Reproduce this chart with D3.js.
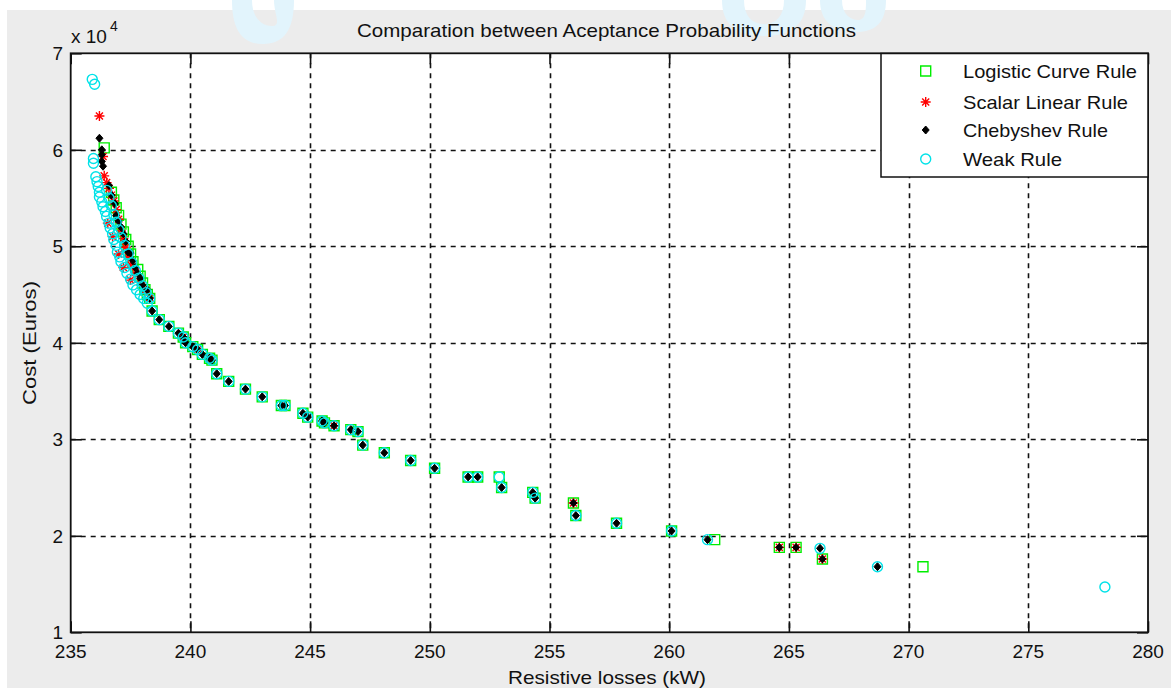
<!DOCTYPE html>
<html>
<head>
<meta charset="utf-8">
<script src="https://cdn.jsdelivr.net/npm/d3@7"></script>
<style>
  html, body { margin: 0; padding: 0; background: #ffffff; }
  svg { display: block; }
  text { font-family: "Liberation Sans", Arial, sans-serif; fill: #111; }
</style>
</head>
<body>
<svg id="chart" width="1171" height="688"></svg>
<script>
// ---------------- DATA ----------------
const chartTitle = "Comparation between Aceptance Probability Functions";
const xLabel = "Resistive losses (kW)";
const yLabel = "Cost (Euros)";
const xTicks = [235, 240, 245, 250, 255, 260, 265, 270, 275, 280];
const yTicks = [10000, 20000, 30000, 40000, 50000, 60000, 70000];
const seriesNames = ["Logistic Curve Rule", "Scalar Linear Rule", "Chebyshev Rule", "Weak Rule"];

// shared part of the front (kW, Euros)
const frontTail = [
  [238.3,44600],[238.4,43300],[238.7,42400],[239.1,41700],[239.5,41000],[239.7,40600],
  [239.8,40000],[240.1,39600],[240.3,39300],[240.5,38800],[240.8,38400],[240.9,38200],
  [241.1,36800],[241.6,36000],[242.3,35200],[243.0,34400],[243.8,33500],[243.95,33500],
  [244.7,32700],[244.9,32300],[245.5,31900],[245.6,31700],[246.0,31400],[246.7,31000],
  [247.0,30800],[247.2,29400],[248.1,28600],[249.2,27800],[250.2,27000],[251.6,26100],
  [252.0,26100],[253.0,25000],[254.3,24500],[254.4,23900],[256.0,23400],[256.1,22100],
  [257.8,21300],[260.1,20500],[264.6,18800],[265.3,18800],[266.4,17600]
];

const logisticHead = [
  [236.4,60200],[236.7,55600],[236.8,54800],[236.9,54000],[237.0,53200],[237.1,52300],
  [237.2,51500],[237.3,50700],[237.4,50000],[237.5,49200],[237.6,48400],[237.8,47600],
  [237.9,46900],[238.0,46200],[238.1,45500],[238.2,45000]
];
const logisticExtra = [[252.9,26100],[261.9,19600],[270.6,16800]];

const scalarPoints = [
  [236.2,63500],[236.35,59300],[236.4,57300],[236.5,56600],[236.6,56000],[236.7,55300],
  [236.8,54700],[236.55,52400],[236.9,53800],[237.0,52800],[236.75,51000],[237.1,51600],
  [237.2,50800],[237.0,49200],[237.3,49900],[237.4,49000],[237.2,47800],[237.5,48100],
  [237.7,47300],[237.5,46500],[237.9,46300],[238.1,45400],[238.3,44700],[239.7,40600],
  [240.3,39300],[240.8,38400],[246.0,31400],[256.0,23400],[264.6,18800],[265.3,18800],
  [266.4,17600]
];

const chebyshevHead = [
  [236.2,61200],[236.3,60000],[236.3,59500],[236.3,58800],[236.35,58300],[236.6,56300],
  [236.7,55300],[236.85,54400],[236.9,53200],[237.0,52600],[237.1,52000],[237.2,51300],
  [237.3,50500],[237.4,49400],[237.5,49300],[237.6,48500],[237.7,47800],[237.8,47200],
  [237.9,46700],[238.0,46000],[238.2,45500]
];
const chebyshevExtra = [[261.6,19600],[266.3,18700],[268.7,16800]];

const weakHead = [
  [235.9,67300],[236.0,66800],[235.95,59100],[235.95,58600],[236.05,57200],[236.1,56700],
  [236.15,56200],[236.2,55600],[236.2,55100],[236.3,54600],[236.35,54100],[236.45,53600],
  [236.5,53100],[236.6,52400],[236.65,51900],[236.75,51300],[236.8,50700],[236.9,50100],
  [236.95,49400],[237.05,48900],[237.1,48400],[237.25,47800],[237.35,47200],[237.5,46600],
  [237.6,46000],[237.75,45500],[237.9,45000],[238.05,44600],[238.2,44100],
  [236.5,55800],[236.6,55000],[236.7,54200],[236.8,53300],[236.9,52500],[237.0,51700],
  [237.1,50900],[237.25,50100],[237.4,49200],[237.55,48300],[237.7,47500],[237.85,46700],
  [238.0,45900],[238.15,45200]
];
const weakExcluded = [256.0, 264.6, 265.3, 266.4];
const weakExtra = [[252.9,26100],[261.6,19600],[266.3,18700],[268.7,16800],[278.2,14700]];

const logisticPoints = logisticHead.concat(frontTail, logisticExtra);
const chebyshevPoints = chebyshevHead.concat(frontTail, chebyshevExtra);
const weakPoints = weakHead.concat(frontTail.filter(d => !weakExcluded.includes(d[0])), weakExtra);

// ---------------- LAYOUT ----------------
const W = 1171, H = 688;
const plotL = 70.7, plotR = 1148, plotT = 53.3, plotB = 632.3;
const tickLen = 11;

const svg = d3.select("#chart");

// figure background
svg.append("rect").attr("x", 0).attr("y", 0).attr("width", W).attr("height", H).attr("fill", "#ffffff");
svg.append("rect").attr("x", 7).attr("y", 10).attr("width", W - 7).attr("height", H - 10).attr("fill", "#ececec");

// faint watermark shapes at top
const wm = svg.append("g").attr("fill", "#e2f4fc").attr("stroke", "none");
wm.append("path").attr("d", "M232,0 L252,0 C252,18 262,26 272,26 C282,26 274,14 274,0 L294,0 C294,30 284,44 263,44 C242,44 232,30 232,0 Z");
wm.append("path").attr("d", "M722,0 L744,0 C744,16 752,24 764,24 C776,24 784,16 784,0 L806,0 C806,24 792,36 764,36 C736,36 722,24 722,0 Z");
wm.append("path").attr("d", "M820,0 L842,0 C842,14 850,20 858,20 C866,20 866,10 866,0 L886,0 C886,22 876,32 856,32 C834,32 820,22 820,0 Z");

const x = d3.scaleLinear().domain([235, 280]).range([plotL, plotR]);
const y = d3.scaleLinear().domain([10000, 70000]).range([plotB, plotT]);

// plot area
svg.append("rect").attr("x", plotL).attr("y", plotT).attr("width", plotR - plotL).attr("height", plotB - plotT).attr("fill", "#ffffff");

// grid
const grid = svg.append("g").attr("stroke", "#111").attr("stroke-width", 1.6).attr("stroke-dasharray", "5,5");
grid.selectAll("line.gx").data(xTicks.slice(1, -1)).join("line")
  .attr("x1", d => Math.round(x(d)) + 0.5).attr("x2", d => Math.round(x(d)) + 0.5)
  .attr("y1", plotT).attr("y2", plotB);
grid.selectAll("line.gy").data(yTicks.slice(1, -1)).join("line")
  .attr("x1", plotL).attr("x2", plotR)
  .attr("y1", d => Math.round(y(d)) + 0.5).attr("y2", d => Math.round(y(d)) + 0.5);

// axes (ticks inside)
const axisStyle = g => {
  g.select(".domain").remove();
  g.selectAll(".tick line").attr("stroke", "#111").attr("stroke-width", 1.6);
  g.selectAll(".tick text").remove();
};
svg.append("g").attr("transform", `translate(0,${plotB})`)
  .call(d3.axisBottom(x).tickValues(xTicks).tickSizeInner(-tickLen).tickSizeOuter(0)).call(axisStyle);
svg.append("g").attr("transform", `translate(0,${plotT})`)
  .call(d3.axisTop(x).tickValues(xTicks).tickSizeInner(-tickLen).tickSizeOuter(0)).call(axisStyle);
svg.append("g").attr("transform", `translate(${plotL},0)`)
  .call(d3.axisLeft(y).tickValues(yTicks).tickSizeInner(-tickLen).tickSizeOuter(0)).call(axisStyle);
svg.append("g").attr("transform", `translate(${plotR},0)`)
  .call(d3.axisRight(y).tickValues(yTicks).tickSizeInner(-tickLen).tickSizeOuter(0)).call(axisStyle);

// box
svg.append("rect").attr("x", plotL).attr("y", plotT).attr("width", plotR - plotL).attr("height", plotB - plotT)
  .attr("fill", "none").attr("stroke", "#111").attr("stroke-width", 1.8);

// tick labels
svg.append("g").selectAll("text").data(xTicks).join("text")
  .attr("x", d => x(d)).attr("y", 658).attr("text-anchor", "middle")
  .attr("font-size", 19).text(d => d);
svg.append("g").selectAll("text").data(yTicks).join("text")
  .attr("x", 63).attr("y", d => y(d) + 7).attr("text-anchor", "end")
  .attr("font-size", 19).text(d => d / 10000);

// exponent label
svg.append("text").attr("x", 71).attr("y", 43).attr("font-size", 19).text("x 10");
svg.append("text").attr("x", 110).attr("y", 31).attr("font-size", 14).text("4");

// title and axis labels
svg.append("text").attr("x", 606.5).attr("y", 37).attr("text-anchor", "middle")
  .attr("font-size", 19).attr("textLength", 499).attr("lengthAdjust", "spacingAndGlyphs").text(chartTitle);
svg.append("text").attr("x", 607).attr("y", 684).attr("text-anchor", "middle")
  .attr("font-size", 19).attr("textLength", 198).attr("lengthAdjust", "spacingAndGlyphs").text(xLabel);
svg.append("text").attr("transform", "translate(36,343) rotate(-90)").attr("text-anchor", "middle")
  .attr("font-size", 19).attr("textLength", 124).attr("lengthAdjust", "spacingAndGlyphs").text(yLabel);

// ---------------- MARKERS ----------------
const colors = { green: "#00ee00", red: "#ff0000", black: "#000000", cyan: "#00e2e8" };
const squarePath = s => `M${-s/2},${-s/2}h${s}v${s}h${-s}Z`;
const diamondPath = (w, h) => `M0,${-h/2}L${w/2},0L0,${h/2}L${-w/2},0Z`;
const asteriskPath = r => {
  const d = r * 0.707;
  return `M${-r},0H${r}M0,${-r}V${r}M${-d},${-d}L${d},${d}M${-d},${d}L${d},${-d}`;
};

function drawSquares(g, data) {
  g.selectAll("path").data(data).join("path")
    .attr("transform", d => `translate(${x(d[0])},${y(d[1])})`)
    .attr("d", squarePath(10)).attr("fill", "none").attr("stroke", colors.green).attr("stroke-width", 1.4);
}
function drawAsterisks(g, data) {
  g.selectAll("path").data(data).join("path")
    .attr("transform", d => `translate(${x(d[0])},${y(d[1])})`)
    .attr("d", asteriskPath(5)).attr("fill", "none").attr("stroke", colors.red).attr("stroke-width", 1.4);
}
function drawDiamonds(g, data) {
  g.selectAll("path").data(data).join("path")
    .attr("transform", d => `translate(${x(d[0])},${y(d[1])})`)
    .attr("d", diamondPath(7, 8)).attr("fill", colors.black).attr("stroke", colors.black).attr("stroke-width", 1);
}
function drawCircles(g, data) {
  g.selectAll("circle").data(data).join("circle")
    .attr("cx", d => x(d[0])).attr("cy", d => y(d[1])).attr("r", 5)
    .attr("fill", "none").attr("stroke", colors.cyan).attr("stroke-width", 1.4);
}

drawSquares(svg.append("g"), logisticPoints);
drawAsterisks(svg.append("g"), scalarPoints);
drawDiamonds(svg.append("g"), chebyshevPoints);
drawCircles(svg.append("g"), weakPoints);

// ---------------- LEGEND ----------------
const lg = svg.append("g");
lg.append("rect").attr("x", 881).attr("y", 53.5).attr("width", 267).attr("height", 123.5)
  .attr("fill", "#ffffff").attr("stroke", "#111").attr("stroke-width", 1.5);
const legendY = [71, 102, 130, 159];
const legendLen = [174, 165, 145, 99];
const mk = 925.7;
lg.append("path").attr("transform", `translate(${mk},${legendY[0]})`).attr("d", squarePath(10))
  .attr("fill", "none").attr("stroke", colors.green).attr("stroke-width", 1.4);
lg.append("path").attr("transform", `translate(${mk},${legendY[1]})`).attr("d", asteriskPath(5))
  .attr("fill", "none").attr("stroke", colors.red).attr("stroke-width", 1.4);
lg.append("path").attr("transform", `translate(${mk},${legendY[2]})`).attr("d", diamondPath(7, 8))
  .attr("fill", colors.black).attr("stroke", colors.black);
lg.append("circle").attr("cx", mk).attr("cy", legendY[3]).attr("r", 5)
  .attr("fill", "none").attr("stroke", colors.cyan).attr("stroke-width", 1.4);
lg.selectAll("text").data(seriesNames).join("text")
  .attr("x", 963).attr("y", (d, i) => legendY[i] + 7)
  .attr("font-size", 19)
  .attr("textLength", (d, i) => legendLen[i]).attr("lengthAdjust", "spacingAndGlyphs")
  .text(d => d);
</script>
</body>
</html>
